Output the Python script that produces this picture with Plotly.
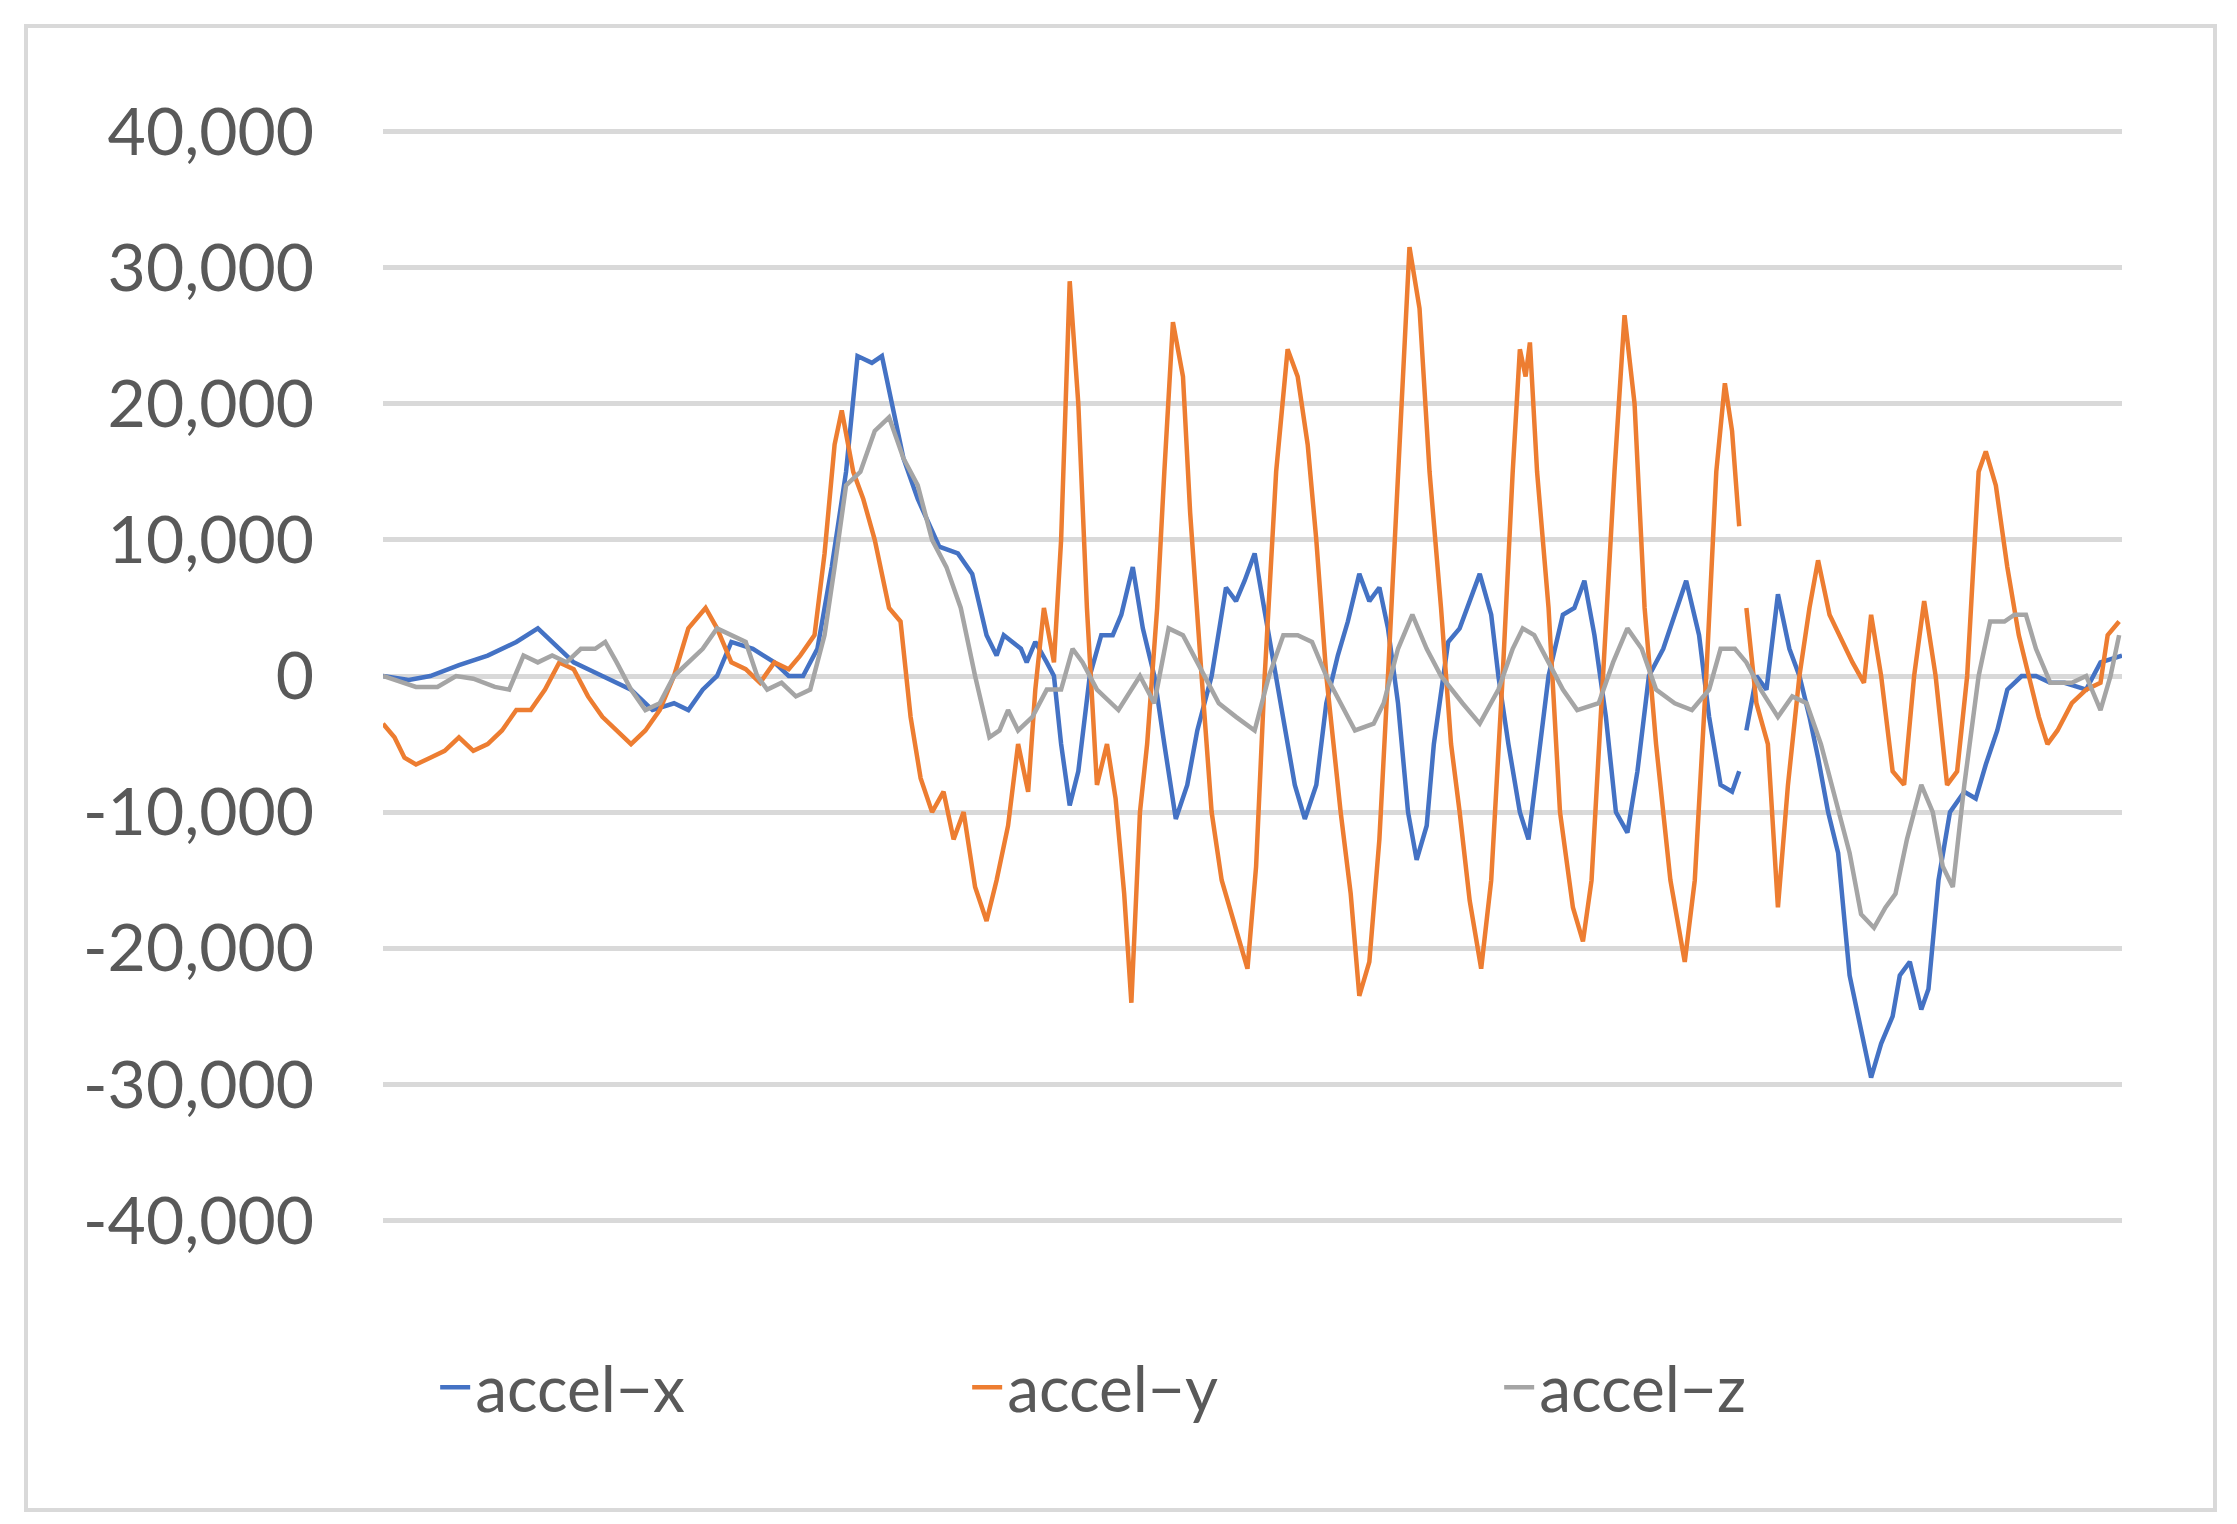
import plotly.graph_objects as go

# sample positions and values
x_t = [267,285,300,320,340,360,375,385,400,420,440,455,470,480,490,500,510,525,540,550,560,570,580,590,598,608,615,622,630,640,655,668,678,688,695,700,712,716,722,730,735,740,746,752,760,768,776,782,790,797,805,812,820,828,835,845,855,862,868,875,880,886,895,903,910,918,925,933,940,948,955,962,968,975,982,988,995,1000,1010,1018,1025,1032,1040,1045,1052,1060,1066,1072,1080,1090,1098,1105,1112,1120,1127,1135,1142,1150,1160,1168,1176,1185,1192,1200,1208,1213,1215,1218,1225,1232,1240,1248,1255,1262,1268,1275,1282,1290,1298,1305,1312,1320,1325,1332,1340,1345,1352,1360,1370,1378,1385,1393,1400,1410,1420,1430,1440,1455,1465,1480]
x_v = [0,-300,0,800,1500,2500,3500,2500,1000,0,-1000,-2500,-2000,-2500,-1000,0,2500,2000,1000,0,0,2000,8000,15000,23500,23000,23500,20000,16000,13000,9500,9000,7500,3000,1500,3000,2000,1000,2500,1000,0,-5000,-9500,-7000,0,3000,3000,4500,8000,3500,0,-5000,-10500,-8000,-4000,0,6500,5500,7000,9000,6000,2000,-3000,-8000,-10500,-8000,-2000,1500,4000,7500,5500,6500,3500,-2000,-10000,-13500,-11000,-5000,2500,3500,5500,7500,4500,0,-5000,-10000,-12000,-7000,0,4500,5000,7000,3000,-3000,-10000,-11500,-7000,0,2000,4500,7000,3000,-3000,-8000,-8500,-7000,None,-4000,0,-1000,6000,2000,0,-3000,-6000,-10000,-13000,-22000,-26000,-29500,-27000,-25000,-22000,-21000,-24500,-23000,-15000,-10000,-8500,-9000,-6500,-4000,-1000,0,0,-500,-500,-1000,1000,1500]

y_t = [267,275,282,290,300,310,320,330,340,350,360,370,380,390,400,410,420,430,440,450,460,470,480,492,500,510,520,530,540,550,558,568,575,582,587,595,602,610,620,628,635,642,650,658,665,672,680,688,695,703,710,717,722,728,735,740,746,752,758,765,772,778,784,789,795,800,807,812,818,825,830,838,845,852,860,870,876,882,890,898,905,912,918,925,930,935,942,948,955,962,968,975,983,990,997,1005,1012,1018,1025,1033,1040,1048,1055,1060,1064,1067,1072,1080,1088,1097,1104,1110,1118,1126,1133,1140,1147,1155,1165,1175,1182,1190,1197,1203,1208,1213,1215,1218,1225,1233,1240,1247,1255,1262,1268,1276,1283,1292,1300,1305,1312,1320,1328,1335,1342,1350,1358,1365,1372,1380,1385,1392,1400,1408,1415,1422,1428,1435,1445,1455,1465,1470,1478]
y_v = [-3500,-4500,-6000,-6500,-6000,-5500,-4500,-5500,-5000,-4000,-2500,-2500,-1000,1000,500,-1500,-3000,-4000,-5000,-4000,-2500,0,3500,5000,3500,1000,500,-500,1000,500,1500,3000,9000,17000,19500,15000,13000,10000,5000,4000,-3000,-7500,-10000,-8500,-12000,-10000,-15500,-18000,-15000,-11000,-5000,-8500,-1000,5000,1000,10000,29000,20000,5000,-8000,-5000,-9000,-16000,-24000,-10000,-5000,5000,15000,26000,22000,12000,0,-10000,-15000,-18000,-21500,-14000,0,15000,24000,22000,17000,10000,0,-5000,-10000,-16000,-23500,-21000,-12000,0,15000,31500,27000,15000,5000,-5000,-10000,-16500,-21500,-15000,0,15000,24000,22000,24500,15000,5000,-10000,-17000,-19500,-15000,0,15000,26500,20000,5000,-5000,-15000,-21000,-15000,0,15000,21500,18000,11000,None,5000,-2000,-5000,-17000,-8000,0,5000,8500,4500,3000,1000,-500,4500,0,-7000,-8000,0,5500,0,-8000,-7000,0,15000,16500,14000,8000,3000,0,-3000,-5000,-4000,-2000,-1000,-500,3000,4000]

z_t = [267,280,290,305,318,330,345,355,365,375,385,395,405,415,422,430,440,450,460,470,480,490,500,510,520,528,535,545,555,565,575,582,590,600,610,620,630,640,650,660,670,680,690,697,703,710,720,730,740,748,755,765,780,795,805,815,825,835,850,862,875,885,895,905,915,925,935,945,958,965,975,985,995,1005,1020,1032,1045,1055,1062,1070,1080,1090,1100,1115,1125,1135,1145,1155,1168,1180,1192,1200,1210,1218,1228,1240,1250,1260,1270,1280,1290,1298,1307,1315,1322,1330,1340,1348,1355,1362,1370,1380,1388,1398,1405,1413,1420,1430,1445,1455,1465,1472,1478]
z_v = [0,-500,-800,-800,0,-200,-800,-1000,1500,1000,1500,1000,2000,2000,2500,1000,-1000,-2500,-2000,0,1000,2000,3500,3000,2500,0,-1000,-500,-1500,-1000,3000,8000,14000,15000,18000,19000,16000,14000,10000,8000,5000,0,-4500,-4000,-2500,-4000,-3000,-1000,-1000,2000,1000,-1000,-2500,0,-2000,3500,3000,1000,-2000,-3000,-4000,0,3000,3000,2500,0,-2000,-4000,-3500,-2000,2000,4500,2000,0,-2000,-3500,-1000,2000,3500,3000,1000,-1000,-2500,-2000,1000,3500,2000,-1000,-2000,-2500,-1000,2000,2000,1000,-1000,-3000,-1500,-2000,-5000,-9000,-13000,-17500,-18500,-17000,-16000,-12000,-8000,-10000,-14000,-15500,-8000,0,4000,4000,4500,4500,2000,-500,-500,0,-2500,0,3000]

y_ticks = [-40000,-30000,-20000,-10000,0,10000,20000,30000,40000]
y_labels = ["-40,000","-30,000","-20,000","-10,000","0","10,000","20,000","30,000","40,000"]
names = ["accel\u2212x", "accel\u2212y", "accel\u2212z"]
colors = ["#4472C4", "#ED7D31", "#A5A5A5"]

fig = go.Figure()
for t, v, n, c in zip([x_t, y_t, z_t], [x_v, y_v, z_v], names, colors):
    fig.add_trace(go.Scatter(x=t, y=v, name=n, mode="lines",
                             line=dict(color=c, width=4.5), connectgaps=False))

fig.update_layout(
    width=2237, height=1524,
    paper_bgcolor="white", plot_bgcolor="white",
    margin=dict(l=375, r=123, t=118, b=306),
    font=dict(family="Lato, Open Sans, sans-serif", color="#595959", size=62),
    xaxis=dict(range=[267, 1480], visible=False, showgrid=False, zeroline=False),
    yaxis=dict(range=[-40400, 40400], tickvals=y_ticks, ticktext=y_labels,
               showgrid=True, gridcolor="#D9D9D9", gridwidth=5, zeroline=False,
               ticks="", ticklabelstandoff=68, tickfont=dict(size=66)),
    legend=dict(orientation="h", x=0.03, xanchor="left", y=-0.147, yanchor="middle",
                font=dict(size=64), entrywidth=487, entrywidthmode="pixels",
                bgcolor="rgba(0,0,0,0)"),
    showlegend=True,
    shapes=[dict(type="rect", xref="paper", yref="paper",
                 x0=-357/1739, x1=1+93/1739,
                 y0=-284/1100, y1=1+100/1100,
                 line=dict(color="#D9D9D9", width=4))],
)
fig.write_html("out.html")
